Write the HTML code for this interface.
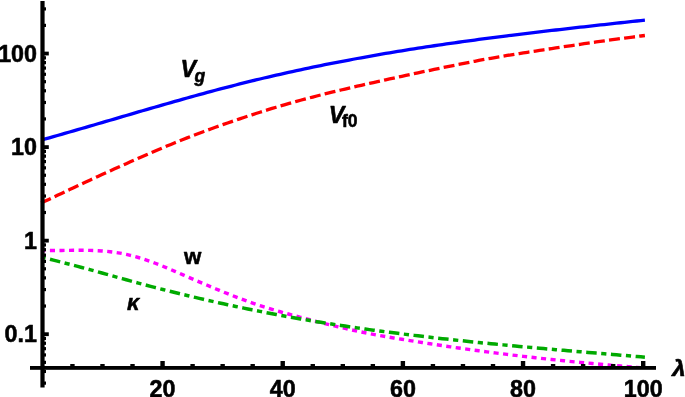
<!DOCTYPE html>
<html><head><meta charset="utf-8"><title>plot</title>
<style>html,body{margin:0;padding:0;background:#fff;overflow:hidden}body{width:685px;height:397px;position:relative}</style>
</head><body>
<svg width="685" height="397" viewBox="0 0 685 397" style="position:absolute;left:0;top:0">
<defs><clipPath id="cp"><rect x="40" y="0" width="610" height="367.9"/></clipPath></defs>
<g fill="none" stroke-linecap="butt" stroke-linejoin="round" clip-path="url(#cp)">
<path d="M41.2,140.06 L45.3,138.93 L49.3,137.79 L53.4,136.65 L57.4,135.50 L61.5,134.34 L65.5,133.18 L69.6,132.02 L73.6,130.85 L77.7,129.68 L81.7,128.51 L85.8,127.34 L89.8,126.16 L93.9,124.98 L97.9,123.79 L102.0,122.61 L106.0,121.42 L110.1,120.24 L114.1,119.05 L118.2,117.87 L122.2,116.68 L126.3,115.49 L130.3,114.31 L134.4,113.13 L138.4,111.95 L142.5,110.77 L146.5,109.59 L150.6,108.42 L154.6,107.24 L158.7,106.08 L162.8,104.91 L166.8,103.75 L170.9,102.60 L174.9,101.45 L179.0,100.30 L183.0,99.16 L187.1,98.03 L191.1,96.90 L195.2,95.78 L199.2,94.66 L203.3,93.55 L207.3,92.45 L211.4,91.36 L215.4,90.28 L219.5,89.20 L223.5,88.14 L227.6,87.08 L231.6,86.03 L235.7,84.99 L239.7,83.97 L243.8,82.95 L247.8,81.94 L251.9,80.95 L255.9,79.96 L260.0,78.99 L264.0,78.02 L268.1,77.07 L272.1,76.12 L276.2,75.19 L280.2,74.27 L284.3,73.35 L288.4,72.45 L292.4,71.55 L296.5,70.67 L300.5,69.79 L304.6,68.93 L308.6,68.07 L312.7,67.22 L316.7,66.39 L320.8,65.56 L324.8,64.74 L328.9,63.93 L332.9,63.12 L337.0,62.33 L341.0,61.55 L345.1,60.77 L349.1,60.01 L353.2,59.25 L357.2,58.50 L361.3,57.76 L365.3,57.02 L369.4,56.30 L373.4,55.58 L377.5,54.88 L381.5,54.17 L385.6,53.48 L389.6,52.80 L393.7,52.12 L397.7,51.45 L401.8,50.79 L405.9,50.14 L409.9,49.49 L414.0,48.85 L418.0,48.22 L422.1,47.59 L426.1,46.97 L430.2,46.36 L434.2,45.75 L438.3,45.15 L442.3,44.56 L446.4,43.97 L450.4,43.39 L454.5,42.82 L458.5,42.25 L462.6,41.69 L466.6,41.13 L470.7,40.57 L474.7,40.03 L478.8,39.48 L482.8,38.95 L486.9,38.41 L490.9,37.89 L495.0,37.36 L499.0,36.84 L503.1,36.33 L507.1,35.82 L511.2,35.31 L515.2,34.81 L519.3,34.31 L523.3,33.82 L527.4,33.33 L531.5,32.84 L535.5,32.36 L539.6,31.88 L543.6,31.40 L547.7,30.93 L551.7,30.46 L555.8,29.99 L559.8,29.52 L563.9,29.06 L567.9,28.60 L572.0,28.14 L576.0,27.68 L580.1,27.22 L584.1,26.77 L588.2,26.32 L592.2,25.87 L596.3,25.42 L600.3,24.97 L604.4,24.53 L608.4,24.08 L612.5,23.64 L616.5,23.20 L620.6,22.76 L624.6,22.31 L628.7,21.87 L632.7,21.43 L636.8,20.99 L640.8,20.55 L644.9,20.11" stroke="#0000ff" stroke-width="3.3"/>
<path d="M41.2,203.05 L45.3,201.11 L49.3,199.18 L53.4,197.25 L57.4,195.33 L61.5,193.41 L65.5,191.50 L69.6,189.60 L73.6,187.70 L77.7,185.81 L81.7,183.92 L85.8,182.04 L89.8,180.17 L93.9,178.31 L97.9,176.45 L102.0,174.59 L106.0,172.75 L110.1,170.91 L114.1,169.08 L118.2,167.26 L122.2,165.44 L126.3,163.64 L130.3,161.84 L134.4,160.05 L138.4,158.27 L142.5,156.50 L146.5,154.73 L150.6,152.98 L154.6,151.24 L158.7,149.51 L162.8,147.80 L166.8,146.10 L170.9,144.42 L174.9,142.75 L179.0,141.11 L183.0,139.48 L187.1,137.88 L191.1,136.29 L195.2,134.73 L199.2,133.19 L203.3,131.68 L207.3,130.18 L211.4,128.70 L215.4,127.24 L219.5,125.80 L223.5,124.38 L227.6,122.97 L231.6,121.58 L235.7,120.20 L239.7,118.84 L243.8,117.49 L247.8,116.15 L251.9,114.83 L255.9,113.52 L260.0,112.23 L264.0,110.95 L268.1,109.69 L272.1,108.45 L276.2,107.23 L280.2,106.02 L284.3,104.83 L288.4,103.66 L292.4,102.51 L296.5,101.38 L300.5,100.27 L304.6,99.18 L308.6,98.11 L312.7,97.05 L316.7,96.00 L320.8,94.97 L324.8,93.96 L328.9,92.95 L332.9,91.96 L337.0,90.98 L341.0,90.01 L345.1,89.05 L349.1,88.09 L353.2,87.15 L357.2,86.21 L361.3,85.28 L365.3,84.36 L369.4,83.44 L373.4,82.52 L377.5,81.62 L381.5,80.72 L385.6,79.82 L389.6,78.93 L393.7,78.04 L397.7,77.16 L401.8,76.28 L405.9,75.41 L409.9,74.54 L414.0,73.68 L418.0,72.82 L422.1,71.96 L426.1,71.11 L430.2,70.26 L434.2,69.42 L438.3,68.58 L442.3,67.74 L446.4,66.91 L450.4,66.08 L454.5,65.26 L458.5,64.44 L462.6,63.63 L466.6,62.83 L470.7,62.04 L474.7,61.26 L478.8,60.49 L482.8,59.74 L486.9,58.99 L490.9,58.27 L495.0,57.55 L499.0,56.85 L503.1,56.17 L507.1,55.49 L511.2,54.83 L515.2,54.18 L519.3,53.53 L523.3,52.89 L527.4,52.26 L531.5,51.63 L535.5,51.01 L539.6,50.39 L543.6,49.77 L547.7,49.15 L551.7,48.54 L555.8,47.93 L559.8,47.32 L563.9,46.71 L567.9,46.11 L572.0,45.51 L576.0,44.91 L580.1,44.32 L584.1,43.73 L588.2,43.14 L592.2,42.56 L596.3,41.99 L600.3,41.41 L604.4,40.85 L608.4,40.29 L612.5,39.73 L616.5,39.18 L620.6,38.63 L624.6,38.09 L628.7,37.56 L632.7,37.03 L636.8,36.52 L640.8,36.00 L644.9,35.50" stroke="#ff0000" stroke-width="3.3" stroke-dasharray="11 4.237" stroke-dashoffset="0.39"/>
<path d="M41.2,250.37 L45.3,250.47 L49.3,250.51 L53.4,250.52 L57.4,250.50 L61.5,250.46 L65.5,250.41 L69.6,250.36 L73.6,250.32 L77.7,250.29 L81.7,250.29 L85.8,250.32 L89.8,250.39 L93.9,250.51 L97.9,250.70 L102.0,250.95 L106.0,251.28 L110.1,251.69 L114.1,252.20 L118.2,252.81 L122.2,253.53 L126.3,254.36 L130.3,255.31 L134.4,256.35 L138.4,257.50 L142.5,258.75 L146.5,260.09 L150.6,261.52 L154.6,263.02 L158.7,264.60 L162.8,266.23 L166.8,267.91 L170.9,269.62 L174.9,271.35 L179.0,273.09 L183.0,274.84 L187.1,276.60 L191.1,278.35 L195.2,280.11 L199.2,281.85 L203.3,283.59 L207.3,285.31 L211.4,287.02 L215.4,288.72 L219.5,290.39 L223.5,292.05 L227.6,293.68 L231.6,295.28 L235.7,296.86 L239.7,298.40 L243.8,299.92 L247.8,301.39 L251.9,302.83 L255.9,304.23 L260.0,305.59 L264.0,306.90 L268.1,308.17 L272.1,309.40 L276.2,310.59 L280.2,311.75 L284.3,312.89 L288.4,314.01 L292.4,315.11 L296.5,316.20 L300.5,317.28 L304.6,318.36 L308.6,319.43 L312.7,320.49 L316.7,321.53 L320.8,322.57 L324.8,323.59 L328.9,324.59 L332.9,325.58 L337.0,326.55 L341.0,327.50 L345.1,328.44 L349.1,329.35 L353.2,330.24 L357.2,331.11 L361.3,331.95 L365.3,332.78 L369.4,333.58 L373.4,334.35 L377.5,335.11 L381.5,335.84 L385.6,336.56 L389.6,337.27 L393.7,337.96 L397.7,338.63 L401.8,339.30 L405.9,339.95 L409.9,340.60 L414.0,341.24 L418.0,341.88 L422.1,342.51 L426.1,343.14 L430.2,343.76 L434.2,344.38 L438.3,345.00 L442.3,345.61 L446.4,346.21 L450.4,346.81 L454.5,347.39 L458.5,347.98 L462.6,348.55 L466.6,349.12 L470.7,349.68 L474.7,350.23 L478.8,350.78 L482.8,351.32 L486.9,351.85 L490.9,352.38 L495.0,352.90 L499.0,353.41 L503.1,353.91 L507.1,354.41 L511.2,354.91 L515.2,355.39 L519.3,355.87 L523.3,356.35 L527.4,356.82 L531.5,357.28 L535.5,357.73 L539.6,358.18 L543.6,358.63 L547.7,359.07 L551.7,359.50 L555.8,359.93 L559.8,360.35 L563.9,360.76 L567.9,361.17 L572.0,361.57 L576.0,361.97 L580.1,362.37 L584.1,362.75 L588.2,363.14 L592.2,363.51 L596.3,363.89 L600.3,364.25 L604.4,364.61 L608.4,364.97 L612.5,365.32 L616.5,365.67 L620.6,366.01 L624.6,366.35 L628.7,366.68 L632.7,367.01 L636.8,367.34 L640.8,367.66 L644.9,367.97" stroke="#ff00ff" stroke-width="3.4" stroke-dasharray="5.1 4.455" stroke-dashoffset="0.85"/>
<path d="M41.2,256.92 L45.3,257.99 L49.3,259.05 L53.4,260.10 L57.4,261.15 L61.5,262.19 L65.5,263.23 L69.6,264.27 L73.6,265.32 L77.7,266.37 L81.7,267.44 L85.8,268.52 L89.8,269.62 L93.9,270.73 L97.9,271.85 L102.0,272.98 L106.0,274.12 L110.1,275.25 L114.1,276.39 L118.2,277.53 L122.2,278.66 L126.3,279.78 L130.3,280.90 L134.4,282.00 L138.4,283.10 L142.5,284.18 L146.5,285.26 L150.6,286.33 L154.6,287.38 L158.7,288.43 L162.8,289.46 L166.8,290.49 L170.9,291.51 L174.9,292.51 L179.0,293.51 L183.0,294.50 L187.1,295.47 L191.1,296.44 L195.2,297.40 L199.2,298.35 L203.3,299.29 L207.3,300.21 L211.4,301.13 L215.4,302.04 L219.5,302.94 L223.5,303.83 L227.6,304.71 L231.6,305.58 L235.7,306.44 L239.7,307.29 L243.8,308.13 L247.8,308.97 L251.9,309.79 L255.9,310.60 L260.0,311.40 L264.0,312.20 L268.1,312.98 L272.1,313.76 L276.2,314.52 L280.2,315.28 L284.3,316.02 L288.4,316.76 L292.4,317.48 L296.5,318.20 L300.5,318.91 L304.6,319.61 L308.6,320.30 L312.7,320.98 L316.7,321.65 L320.8,322.31 L324.8,322.96 L328.9,323.61 L332.9,324.24 L337.0,324.87 L341.0,325.49 L345.1,326.10 L349.1,326.71 L353.2,327.30 L357.2,327.89 L361.3,328.47 L365.3,329.04 L369.4,329.61 L373.4,330.16 L377.5,330.71 L381.5,331.26 L385.6,331.79 L389.6,332.32 L393.7,332.85 L397.7,333.36 L401.8,333.87 L405.9,334.38 L409.9,334.87 L414.0,335.37 L418.0,335.85 L422.1,336.33 L426.1,336.80 L430.2,337.27 L434.2,337.74 L438.3,338.19 L442.3,338.64 L446.4,339.09 L450.4,339.53 L454.5,339.97 L458.5,340.40 L462.6,340.83 L466.6,341.25 L470.7,341.67 L474.7,342.08 L478.8,342.49 L482.8,342.90 L486.9,343.30 L490.9,343.70 L495.0,344.09 L499.0,344.49 L503.1,344.87 L507.1,345.26 L511.2,345.64 L515.2,346.01 L519.3,346.39 L523.3,346.76 L527.4,347.13 L531.5,347.50 L535.5,347.86 L539.6,348.22 L543.6,348.58 L547.7,348.94 L551.7,349.29 L555.8,349.65 L559.8,350.00 L563.9,350.35 L567.9,350.70 L572.0,351.04 L576.0,351.39 L580.1,351.73 L584.1,352.08 L588.2,352.42 L592.2,352.76 L596.3,353.10 L600.3,353.44 L604.4,353.78 L608.4,354.12 L612.5,354.46 L616.5,354.80 L620.6,355.14 L624.6,355.48 L628.7,355.82 L632.7,356.16 L636.8,356.50 L640.8,356.84 L644.9,357.18" stroke="#00aa00" stroke-width="3.5" stroke-dasharray="5.2 4.55 10.5 4.54" stroke-dashoffset="0.65"/>
</g>
<g fill="#000">
<rect x="40.4" y="1" width="4.2" height="386.5"/>
<rect x="30" y="366" width="626" height="3.8"/>
<rect x="42.5" y="381.52" width="3.5" height="3.2"/>
<rect x="42.5" y="369.83" width="3.5" height="3.2"/>
<rect x="42.5" y="360.76" width="3.5" height="3.2"/>
<rect x="42.5" y="353.35" width="3.5" height="3.2"/>
<rect x="42.5" y="347.09" width="3.5" height="3.2"/>
<rect x="42.5" y="341.67" width="3.5" height="3.2"/>
<rect x="42.5" y="336.88" width="3.5" height="3.2"/>
<rect x="42.5" y="304.44" width="3.5" height="3.2"/>
<rect x="42.5" y="287.97" width="3.5" height="3.2"/>
<rect x="42.5" y="276.28" width="3.5" height="3.2"/>
<rect x="42.5" y="267.21" width="3.5" height="3.2"/>
<rect x="42.5" y="259.80" width="3.5" height="3.2"/>
<rect x="42.5" y="253.54" width="3.5" height="3.2"/>
<rect x="42.5" y="248.12" width="3.5" height="3.2"/>
<rect x="42.5" y="243.33" width="3.5" height="3.2"/>
<rect x="42.5" y="210.89" width="3.5" height="3.2"/>
<rect x="42.5" y="194.42" width="3.5" height="3.2"/>
<rect x="42.5" y="182.73" width="3.5" height="3.2"/>
<rect x="42.5" y="173.66" width="3.5" height="3.2"/>
<rect x="42.5" y="166.25" width="3.5" height="3.2"/>
<rect x="42.5" y="159.99" width="3.5" height="3.2"/>
<rect x="42.5" y="154.57" width="3.5" height="3.2"/>
<rect x="42.5" y="149.78" width="3.5" height="3.2"/>
<rect x="42.5" y="117.34" width="3.5" height="3.2"/>
<rect x="42.5" y="100.87" width="3.5" height="3.2"/>
<rect x="42.5" y="89.18" width="3.5" height="3.2"/>
<rect x="42.5" y="80.11" width="3.5" height="3.2"/>
<rect x="42.5" y="72.70" width="3.5" height="3.2"/>
<rect x="42.5" y="66.44" width="3.5" height="3.2"/>
<rect x="42.5" y="61.02" width="3.5" height="3.2"/>
<rect x="42.5" y="56.23" width="3.5" height="3.2"/>
<rect x="42.5" y="23.79" width="3.5" height="3.2"/>
<rect x="42.5" y="7.32" width="3.5" height="3.2"/>
<rect x="42.5" y="51.65" width="6.3" height="3.8"/>
<rect x="42.5" y="145.20" width="6.3" height="3.8"/>
<rect x="42.5" y="238.75" width="6.3" height="3.8"/>
<rect x="42.5" y="332.30" width="6.3" height="3.8"/>
<rect x="70.24" y="364" width="4.4" height="3"/>
<rect x="100.28" y="364" width="4.4" height="3"/>
<rect x="130.32" y="364" width="4.4" height="3"/>
<rect x="160.36" y="361" width="4.4" height="6"/>
<rect x="190.40" y="364" width="4.4" height="3"/>
<rect x="220.44" y="364" width="4.4" height="3"/>
<rect x="250.48" y="364" width="4.4" height="3"/>
<rect x="280.52" y="361" width="4.4" height="6"/>
<rect x="310.56" y="364" width="4.4" height="3"/>
<rect x="340.60" y="364" width="4.4" height="3"/>
<rect x="370.64" y="364" width="4.4" height="3"/>
<rect x="400.68" y="361" width="4.4" height="6"/>
<rect x="430.72" y="364" width="4.4" height="3"/>
<rect x="460.76" y="364" width="4.4" height="3"/>
<rect x="490.80" y="364" width="4.4" height="3"/>
<rect x="520.84" y="361" width="4.4" height="6"/>
<rect x="550.88" y="364" width="4.4" height="3"/>
<rect x="580.92" y="364" width="4.4" height="3"/>
<rect x="610.96" y="364" width="4.4" height="3"/>
<rect x="641.00" y="361" width="4.4" height="6"/>
</g>
<g font-family="'Liberation Sans', Arial, Helvetica, sans-serif" font-weight="bold" font-size="23.3" fill="#000" stroke="#000" stroke-width="0.55" stroke-linejoin="round">
<text x="37" y="61.9" text-anchor="end">100</text>
<text x="37" y="155" text-anchor="end">10</text>
<text x="37" y="248.5" text-anchor="end">1</text>
<text x="37" y="341.9" text-anchor="end">0.1</text>
<text x="162.5" y="396.6" text-anchor="middle">20</text>
<text x="282.7" y="396.6" text-anchor="middle">40</text>
<text x="402.9" y="396.6" text-anchor="middle">60</text>
<text x="523" y="396.6" text-anchor="middle">80</text>
<text x="643.2" y="396.6" text-anchor="middle">100</text>
<text x="180.6" y="77.2" font-style="italic">V<tspan font-size="17.5" dy="4.6" dx="-1.6">g</tspan></text>
<text x="328.7" y="122.8"><tspan font-style="italic">V</tspan><tspan font-size="17.5" dy="4.6" dx="-2.3">f0</tspan></text>
<text x="184" y="264.2" font-size="22.3">w</text>
<text x="127" y="310" font-size="21.8" font-style="italic">κ</text>
<text transform="translate(672.2,375.9) scale(1.13,1)" font-size="21.2" font-style="italic">λ</text>
</g>
</svg>
</body></html>
